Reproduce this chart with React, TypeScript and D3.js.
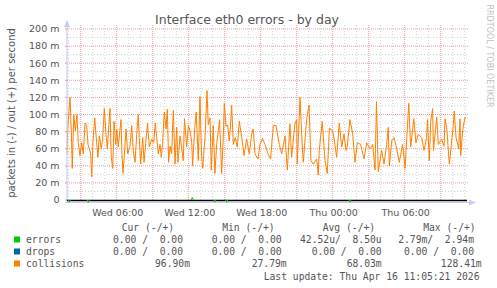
import React from "react";
import * as d3 from "d3";

// ---- data (hours since Wed 00:00, values in milli-packets/s) ----
const collisionHours = [
  1.86, 1.94, 2.11, 2.22, 2.3, 2.42, 2.55, 2.69, 2.8, 2.94, 3.08, 3.22, 3.36, 3.5, 3.61, 3.72, 3.83, 3.92, 4.03, 4.17,
  4.33, 4.44, 4.55, 4.72, 4.83, 4.97, 5.11, 5.22, 5.33, 5.44, 5.55, 5.67, 5.78, 5.92, 6.0, 6.13, 6.36, 6.44, 6.53, 6.67,
  6.78, 6.92, 7.11, 7.25, 7.38, 7.53, 7.67, 7.8, 7.88, 8.0, 8.17, 8.28, 8.42, 8.57, 8.72, 8.92, 9.08, 9.22, 9.33, 9.47,
  9.61, 9.72, 9.83, 9.97, 10.11, 10.22, 10.33, 10.44, 10.58, 10.72, 10.86, 11.0, 11.11, 11.28, 11.42, 11.55, 11.65, 11.83, 11.98, 12.11,
  12.25, 12.33, 12.5, 12.63, 12.8, 12.94, 13.08, 13.17, 13.36, 13.53, 13.63, 13.78, 13.88, 14.05, 14.19, 14.33, 14.47, 14.57, 14.75, 14.88,
  14.97, 15.11, 15.25, 15.38, 15.5, 15.58, 15.72, 15.88, 16.05, 16.22, 16.42, 16.53, 16.61, 16.83, 17.05, 17.25, 17.38, 17.53, 17.78, 17.94,
  18.15, 18.36, 18.61, 18.83, 19.05, 19.28, 19.55, 19.75, 20.03, 20.22, 20.44, 20.58, 20.86, 21.0, 21.05, 21.28, 21.42, 21.55, 21.83, 22.03,
  22.19, 22.38, 22.67, 22.8, 22.88, 23.13, 23.36, 23.55, 23.73, 24.0, 24.19, 24.33, 24.55, 24.75, 24.94, 25.11, 25.22, 25.44, 25.67, 25.86,
  26.05, 26.33, 26.61, 26.83, 27.11, 27.33, 27.53, 27.65, 27.8, 28.08, 28.28, 28.5, 28.63, 28.72, 28.92, 29.11, 29.33, 29.55, 29.83, 30.03,
  30.34, 30.5, 30.76, 30.94, 31.13, 31.42, 31.61, 31.83, 31.9, 32.05, 32.17, 32.33, 32.4, 32.67, 32.8, 33.08, 33.28, 33.36, 33.5, 33.72,
  34.05, 34.13, 34.28, 34.5, 34.61, 34.67, 34.83, 35.03, 35.11,
];
const collisionValues = [
  54, 88, 120, 81, 37, 100, 81, 100, 67, 52, 67, 54, 90, 87, 65, 60, 54, 27, 69, 96,
  67, 50, 75, 60, 71, 107, 77, 60, 83, 107, 50, 37, 92, 65, 83, 62, 94, 54, 31, 60,
  83, 54, 63, 87, 58, 44, 77, 100, 73, 42, 73, 44, 67, 90, 62, 71, 67, 90, 73, 54,
  65, 50, 67, 103, 83, 106, 44, 63, 54, 105, 42, 85, 44, 75, 60, 46, 95, 62, 87, 81,
  69, 40, 83, 103, 46, 121, 50, 37, 73, 128, 88, 96, 35, 87, 31, 65, 81, 94, 31, 73,
  113, 86, 88, 69, 90, 111, 65, 73, 62, 92, 73, 62, 52, 71, 54, 77, 83, 54, 48, 65,
  72, 65, 54, 48, 87, 87, 65, 54, 75, 35, 89, 50, 90, 94, 42, 120, 75, 44, 94, 111,
  46, 42, 48, 29, 58, 92, 46, 31, 84, 81, 65, 50, 90, 62, 77, 58, 63, 94, 77, 44,
  67, 65, 48, 67, 60, 65, 35, 115, 33, 58, 42, 65, 85, 40, 69, 73, 60, 44, 65, 37,
  113, 62, 95, 67, 77, 73, 58, 73, 94, 46, 92, 107, 58, 97, 65, 71, 63, 95, 85, 42,
  87, 104, 73, 60, 95, 52, 81, 97, 96,
];
const errorsInHours = [2.05, 3.63, 14.19, 15.17, 25.44];
const errorsInValues = [2.5, 2.79, 2.4, 2.6, 2.5];
const errorsOutHours = [12.3];
const errorsOutValues = [2.94];

const xTickHours = [6, 12, 18, 24, 30];
const xTickLabels = ["Wed 06:00", "Wed 12:00", "Wed 18:00", "Thu 00:00", "Thu 06:00"];
const yTicks = [0, 20, 40, 60, 80, 100, 120, 140, 160, 180, 200];
const yTickLabels = ["0", "20 m", "40 m", "60 m", "80 m", "100 m", "120 m", "140 m", "160 m", "180 m", "200 m"];

const legendNames = ["errors", "drops", "collisions"];
const legendColors = ["#00CC00", "#0066B3", "#FF8000"];
const legendCur = ["0.00 /  0.00", "0.00 /  0.00", "96.90m"];
const legendMin = ["0.00 /  0.00", "0.00 /  0.00", "27.79m"];
const legendAvg = ["42.52u/  8.50u", "0.00 /  0.00", "68.03m"];
const legendMax = ["2.79m/  2.94m", "0.00 /  0.00", "128.41m"];
const legendHeaders = ["Cur (-/+)", "Min (-/+)", "Avg (-/+)", "Max (-/+)"];

const STEP = 5 / 60; // 5-minute sample

export default function App() {
  const W = 497, H = 288;
  const left = 67, right = 467, top = 25, bottom = 200;
  const x = d3.scaleLinear().domain([1.86, 1.86 + 400 / 12]).range([left, right]);
  const y = d3.scaleLinear().domain([0, 200]).range([200, 29]);

  const minorX = d3.range(2, 36).filter((h) => h % 3 !== 0);
  const majorX = d3.range(3, 36, 3);
  const minorY = d3.range(10, 201, 20);
  const majorY = d3.range(20, 201, 20);

  const line = d3.line<[number, number]>().x((d) => x(d[0])).y((d) => y(d[1]));
  const collPts: [number, number][] = collisionHours.map((h, i) => [h, collisionValues[i]]);

  const spike = (hs: number[], vs: number[], sign: number) =>
    hs.map((h, i) => line([[h - STEP, 0], [h, sign * vs[i]], [h + STEP, 0]] as [number, number][]) || "");

  const mono = "'DejaVu Sans Mono', monospace";
  const sans = "'DejaVu Sans', sans-serif";
  const txt = "#555";
  const rowY = [243, 255, 267];
  const fs = 9.7;

  return (
    <svg width={W} height={H} style={{ position: "absolute", left: 0, top: 0, background: "#fff" }}>
      <rect x={0} y={0} width={W} height={H} fill="#fff" />
      {/* grid */}
      {minorX.map((h) => (
        <line key={"mx" + h} x1={x(h)} x2={x(h)} y1={top} y2={bottom} stroke="#d0d0d0" strokeDasharray="1,2" strokeWidth={1} />
      ))}
      {minorY.map((v) => (
        <line key={"my" + v} x1={left} x2={right} y1={y(v)} y2={y(v)} stroke="#d0d0d0" strokeDasharray="1,2" strokeWidth={1} />
      ))}
      {majorX.map((h) => (
        <line key={"Mx" + h} x1={x(h)} x2={x(h)} y1={top} y2={bottom} stroke="#eaa0a0" strokeDasharray="1,1" strokeWidth={1} />
      ))}
      {majorY.map((v) => (
        <line key={"My" + v} x1={left} x2={right + 1} y1={y(v)} y2={y(v)} stroke="#eaa0a0" strokeDasharray="1,1" strokeWidth={1} />
      ))}
      {/* data */}
      <path d={line(collPts) || ""} fill="none" stroke="#FF8000" strokeWidth={1} />
      {/* axes */}
      <line x1={left} x2={left} y1={22} y2={203} stroke="#c8ccf0" strokeWidth={1.2} />
      <path d={`M${left - 3},${27} L${left},${20} L${left + 3},${27} Z`} fill="#c8ccf0" />
      <line x1={left - 2} x2={right + 3} y1={202.5} y2={202.5} stroke="#c8ccf0" strokeWidth={1.2} />
      <path d={`M${right + 2},${199.5} L${right + 9},${202.5} L${right + 2},${205.5} Z`} fill="#c8ccf0" />
      {yTicks.map((v) => (
        <line key={"yt" + v} x1={left - 2} x2={left} y1={y(v)} y2={y(v)} stroke="#e0a0a0" />
      ))}
      <line x1={left} x2={right} y1={200.5} y2={200.5} stroke="#000" strokeWidth={1.6} />
      {spike(errorsInHours, errorsInValues, -1).map((d, i) => (
        <path key={"ei" + i} d={d} fill="none" stroke="#00CC00" strokeWidth={1} />
      ))}
      {spike(errorsOutHours, errorsOutValues, 1).map((d, i) => (
        <path key={"eo" + i} d={d} fill="none" stroke="#00CC00" strokeWidth={1} />
      ))}
      {/* tick labels */}
      {yTicks.map((v, i) => (
        <text key={"yl" + v} x={59.5} y={y(v)} dy="0.35em" textAnchor="end" fontFamily={sans} fontSize={9.5} fill={txt}>
          {yTickLabels[i]}
        </text>
      ))}
      {xTickHours.map((h, i) => (
        <text key={"xl" + h} x={x(h) + 1} y={215.5} textAnchor="middle" fontFamily={sans} fontSize={9.5} fill={txt}>
          {xTickLabels[i]}
        </text>
      ))}
      {/* titles */}
      <text x={247} y={24} textAnchor="middle" fontFamily={sans} fontSize={12.5} fill={txt}>
        Interface eth0 errors - by day
      </text>
      <text transform="translate(14.5,113) rotate(-90)" textAnchor="middle" fontFamily={sans} fontSize={10} fill={txt}>
        packets in (-) / out (+) per second
      </text>
      <text transform="translate(487,56) rotate(90)" textAnchor="middle" fontFamily={sans} fontSize={8} fill="#c0c0c0">
        RRDTOOL / TOBI OETIKER
      </text>
      {/* legend */}
      {legendHeaders.map((hd, i) => (
        <text key={hd} x={121.7 + i * 100.5} y={231} fontFamily={mono} fontSize={fs} fill={txt} style={{ whiteSpace: "pre" }}>
          {hd}
        </text>
      ))}
      {legendNames.map((n, i) => (
        <g key={n}>
          <rect x={14} y={rowY[i] - 6.5} width={6} height={6} fill={legendColors[i]} />
          <text x={26} y={rowY[i]} fontFamily={mono} fontSize={fs} fill={txt}>{n}</text>
          <text x={i === 2 ? 190 : 183} y={rowY[i]} textAnchor="end" fontFamily={mono} fontSize={fs} fill={txt} style={{ whiteSpace: "pre" }}>{legendCur[i]}</text>
          <text x={i === 2 ? 286.7 : 281.7} y={rowY[i]} textAnchor="end" fontFamily={mono} fontSize={fs} fill={txt} style={{ whiteSpace: "pre" }}>{legendMin[i]}</text>
          <text x={381.7} y={rowY[i]} textAnchor="end" fontFamily={mono} fontSize={fs} fill={txt} style={{ whiteSpace: "pre" }}>{legendAvg[i]}</text>
          <text x={i === 2 ? 481.7 : 474} y={rowY[i]} textAnchor="end" fontFamily={mono} fontSize={fs} fill={txt} style={{ whiteSpace: "pre" }}>{legendMax[i]}</text>
        </g>
      ))}
      <text x={479.5} y={279.5} textAnchor="end" fontFamily={mono} fontSize={fs} fill={txt}>
        Last update: Thu Apr 16 11:05:21 2026
      </text>
    </svg>
  );
}
